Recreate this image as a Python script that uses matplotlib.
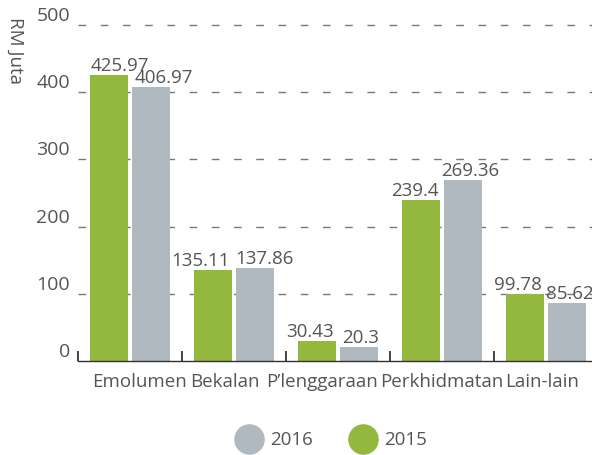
import numpy as np
import matplotlib.pyplot as plt
from matplotlib.lines import Line2D
from matplotlib.transforms import ScaledTranslation, blended_transform_factory

categories = ['Emolumen', 'Bekalan', 'P\u2019lenggaraan', 'Perkhidmatan', 'Lain-lain']
vals_2015 = [425.97, 135.11, 30.43, 239.4, 99.78]
vals_2016 = [406.97, 137.86, 20.3, 269.36, 85.62]
yticks = [0, 100, 200, 300, 400, 500]

# horizontal nudges (pixels) so neighbouring value labels don't collide
nudge_2015 = [10.5, -12, -7, -5.5, -7]
nudge_2016 = [12.5, 9, 1.5, 7.5, 2.5]
# category labels are packed along the axis rather than centred
nudge_cat = [9.5, -9.5, -16, -0.5, -3.5]

green = '#94b83d'
grey = '#b1b9c0'
txt = '#555555'

plt.rcParams['font.family'] = ['Open Sans', 'DejaVu Sans']

fig = plt.figure(figsize=(5.92, 4.55), dpi=100)
ax = fig.add_axes([0.132, 0.2066, 0.878, 0.7385])

x = np.arange(len(categories)) + 0.5
w = 0.365
gap = 0.04
b15 = ax.bar(x - gap / 2 - w / 2, vals_2015, w, color=green, zorder=3)
b16 = ax.bar(x + gap / 2 + w / 2, vals_2016, w, color=grey, zorder=3)

for bars, vals, nudge in ((b15, vals_2015, nudge_2015), (b16, vals_2016, nudge_2016)):
    for r, v, dx in zip(bars, vals, nudge):
        ax.annotate('{:g}'.format(v), (r.get_x() + r.get_width() / 2, v),
                    xytext=(dx * 0.72, 0), textcoords='offset points',
                    ha='center', va='bottom', fontsize=13.5, color=txt)

ax.set_xlim(0, len(categories))
ax.set_ylim(0, 500)

# dashed grid lines
for t in yticks[1:]:
    ax.axhline(t, color='#777777', lw=1.0, dashes=(5.5, 10.5), zorder=1, clip_on=False)

# category names under the axis
xtrans = blended_transform_factory(ax.transData, ax.transAxes)
for xc, name, dx in zip(x, categories, nudge_cat):
    off = ScaledTranslation(dx / 100, -26 / 100, fig.dpi_scale_trans)
    ax.text(xc, 0, name, transform=xtrans + off, ha='center', va='baseline',
            fontsize=13.5, color=txt)

ax.set_xticks([])
ax.set_xticks(np.arange(len(categories) + 1), minor=True)
ax.tick_params(axis='x', which='minor', direction='in', length=7, width=1.2, color='#222222')

ax.set_yticks(yticks)
ax.set_yticklabels([str(t) for t in yticks], fontsize=14, color=txt, va='bottom')
ax.tick_params(axis='y', length=0, pad=5.8)

for s in ('top', 'right', 'left'):
    ax.spines[s].set_visible(False)
ax.spines['bottom'].set_color('#333333')
ax.spines['bottom'].set_linewidth(1.0)
ax.spines['bottom'].set_zorder(4)

fig.text(0.025, 0.888, 'RM Juta', rotation=270, ha='center', va='center',
         fontsize=13.5, color=txt)

handles = [Line2D([], [], ls='none', marker='o', markersize=21, color=grey),
           Line2D([], [], ls='none', marker='o', markersize=21, color=green)]
fig.legend(handles, ['2016', '2015'], loc='center', bbox_to_anchor=(0.555, 0.032),
           ncol=2, frameon=False, fontsize=13.5, labelcolor=txt,
           handletextpad=0.1, columnspacing=1.7)

fig.savefig('out.png', dpi=100)
